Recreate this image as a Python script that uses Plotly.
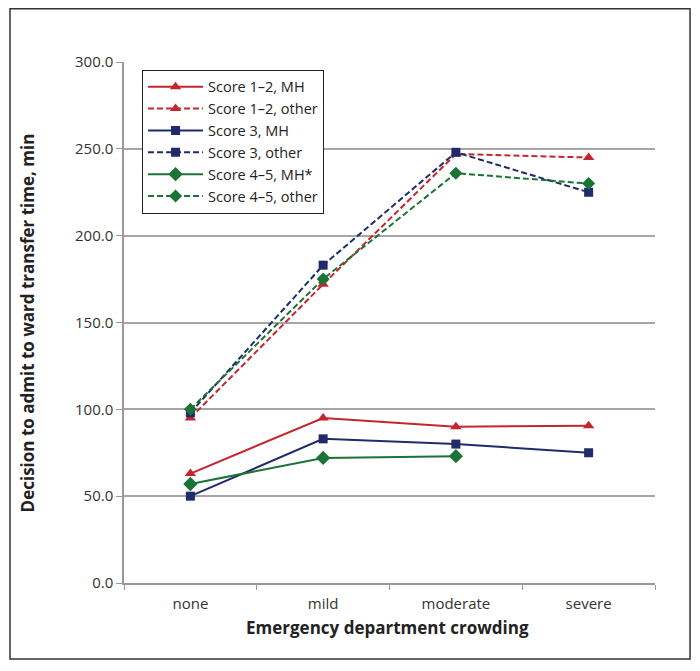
import plotly.graph_objects as go

categories = ["none", "mild", "moderate", "severe"]
s12_mh = [63, 95, 90, 90.5]
s12_other = [95, 172, 247, 245]
s3_mh = [50, 83, 80, 75]
s3_other = [98, 183, 248, 225]
s45_mh = [57, 72, 73, None]
s45_other = [100, 175, 236, 230]

RED = "#C4262E"
NAVY = "#1F2B6B"
GREEN = "#1B7336"
DASH = "6px,3px"

series = [
    ("Score 1–2, MH", s12_mh, RED, "solid", "triangle-up", 10),
    ("Score 1–2, other", s12_other, RED, DASH, "triangle-up", 10),
    ("Score 3, MH", s3_mh, NAVY, "solid", "square", 9),
    ("Score 3, other", s3_other, NAVY, DASH, "square", 9),
    ("Score 4–5, MH*", s45_mh, GREEN, "solid", "diamond", 11),
    ("Score 4–5, other", s45_other, GREEN, DASH, "diamond", 10),
]

fig = go.Figure()
for name, vals, col, dash, sym, sz in series:
    fig.add_trace(go.Scatter(
        x=categories, y=vals, name=name, mode="lines+markers",
        line=dict(color=col, width=2, dash=dash),
        marker=dict(symbol=sym, size=sz, color=col),
    ))

FONT = "Open Sans, DejaVu Sans, sans-serif"
TXT = "#222"
fig.update_layout(
    width=700, height=671,
    margin=dict(l=124, r=45, t=62, b=88),
    paper_bgcolor="white", plot_bgcolor="white",
    font=dict(family=FONT, size=15, color=TXT),
    showlegend=True,
    legend=dict(
        x=0.034, y=0.985, xanchor="left", yanchor="top",
        bordercolor="#222", borderwidth=1, bgcolor="white",
        font=dict(size=14.5, color=TXT), tracegroupgap=0,
        itemwidth=55,
    ),
    xaxis=dict(
        type="category", range=[-0.5, 3.5],
        showline=True, linecolor="#999", linewidth=1.5,
        ticks="outside", tickson="boundaries", ticklen=5, tickcolor="#999",
        showgrid=False, ticklabelstandoff=6,
        tickfont=dict(size=15, color="#333"),
    ),
    yaxis=dict(
        range=[0, 300], tickvals=[0, 50, 100, 150, 200, 250, 300],
        ticktext=["0.0", "50.0", "100.0", "150.0", "200.0", "250.0", "300.0"],
        showline=True, linecolor="#999", linewidth=1.5,
        ticks="outside", ticklen=6, tickcolor="#999",
        showgrid=True, gridcolor="#A6A6A6", gridwidth=1.5,
        zeroline=False,
        tickfont=dict(size=15, color="#333"),
    ),
    annotations=[
        dict(text="<b>Emergency department crowding</b>", xref="paper", yref="paper",
             x=0.497, y=-0.0846, xanchor="center", yanchor="middle", showarrow=False,
             font=dict(size=17, color=TXT)),
        dict(text="<b>Decision to admit to ward transfer time, min</b>", xref="paper", yref="paper",
             x=-0.181, y=0.5, xanchor="center", yanchor="middle", showarrow=False,
             textangle=-90, font=dict(size=17, color=TXT)),
    ],
    shapes=[dict(
        type="rect", xref="paper", yref="paper",
        x0=-0.2147, x1=1.066, y0=-0.146, y1=1.102,
        line=dict(color="#333", width=1.5), fillcolor="rgba(0,0,0,0)",
        layer="below",
    )],
)

fig.write_html("out.html", config={"displayModeBar": False},
               post_script="document.body.style.margin='0';")
